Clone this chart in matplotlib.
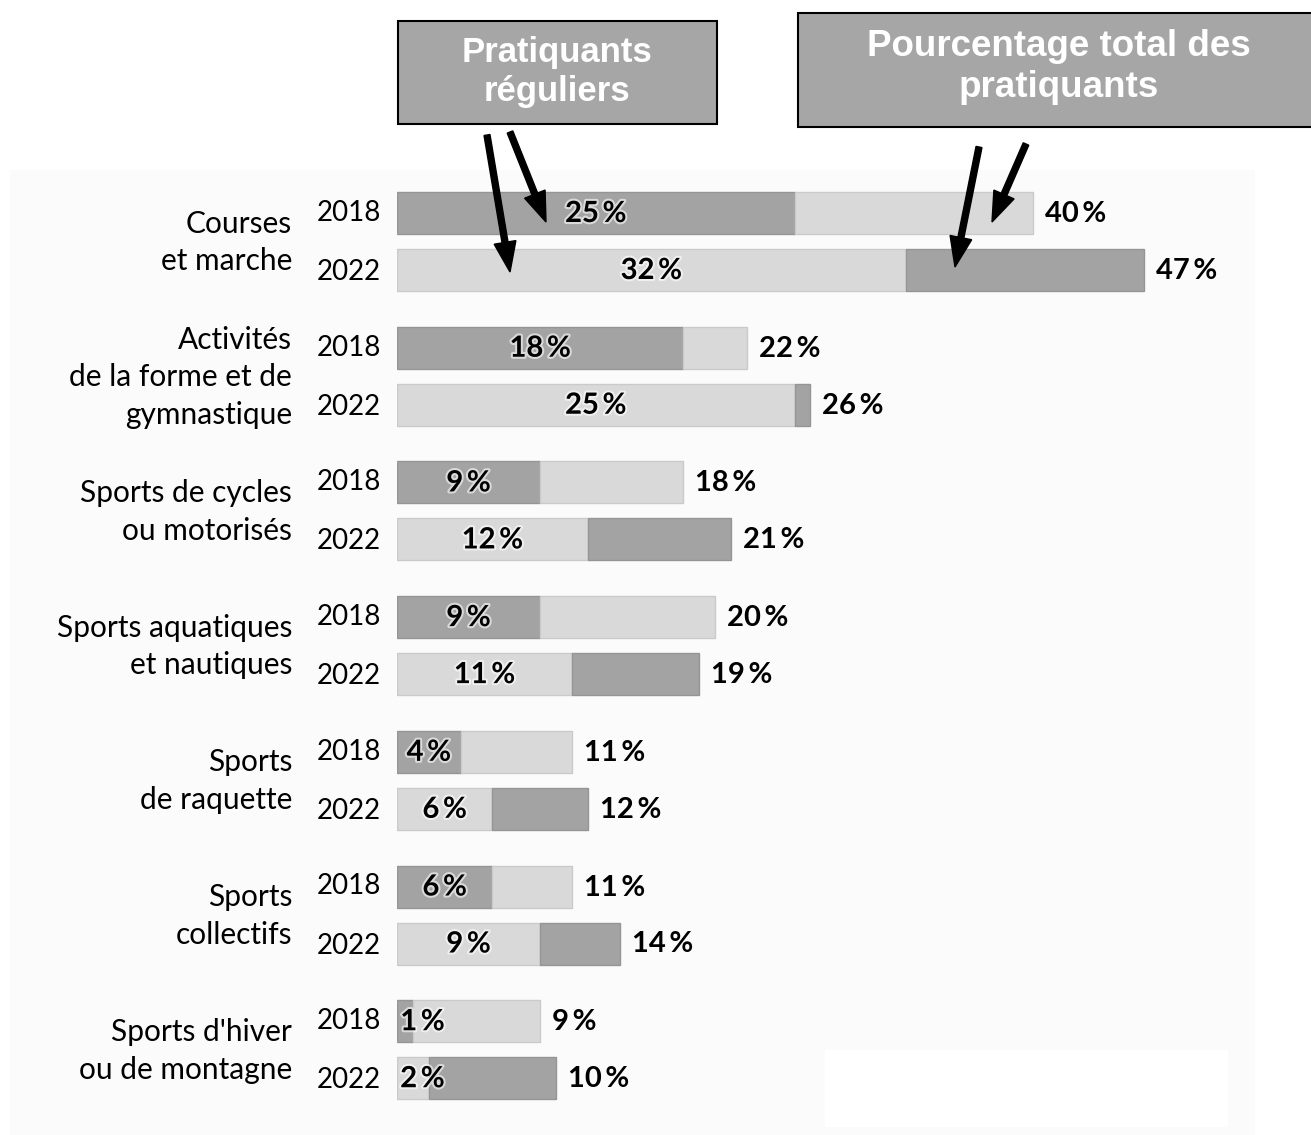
import matplotlib.pyplot as plt
from matplotlib.patches import Rectangle, FancyArrow
import matplotlib.patheffects as pe

categories = ["Courses\net marche",
              "Activités\nde la forme et de\ngymnastique",
              "Sports de cycles\nou motorisés",
              "Sports aquatiques\net nautiques",
              "Sports\nde raquette",
              "Sports\ncollectifs",
              "Sports d'hiver\nou de montagne"]
years = ["2018", "2022"]
regular_2018 = [25, 18, 9, 9, 4, 6, 1]
total_2018 = [40, 22, 18, 20, 11, 11, 9]
regular_2022 = [32, 25, 12, 11, 6, 9, 2]
total_2022 = [47, 26, 21, 19, 12, 14, 10]

DARK = "#a3a3a3"
LIGHT = "#d9d9d9"
W, H = 1311, 1135
X0 = 397          # pixel of 0 %
PX = 15.9         # pixels per percent
Y_FIRST = 213
GROUP = 134.7
PAIR = 57
BAR_H = 42
FONT = ["Lato", "DejaVu Sans"]

fig = plt.figure(figsize=(W / 100, H / 100), dpi=100)
fig.patch.set_facecolor("white")

# faint panel behind the chart
bg = fig.add_axes([0, 0, 1, 1])
bg.set_xlim(0, W)
bg.set_ylim(H, 0)
bg.axis("off")
bg.add_patch(Rectangle((10, 170), 1245, 965, facecolor="#fbfbfb", edgecolor="none"))
bg.add_patch(Rectangle((825, 1050), 403, 77, facecolor="white", edgecolor="none"))

ax = fig.add_axes([X0 / W, 0, (W - X0) / W, 1])
ax.set_xlim(0, (W - X0) / PX)
ax.set_ylim(H, 0)
ax.axis("off")

halo = [pe.withStroke(linewidth=3, foreground="white", alpha=0.6)]

for i, cat in enumerate(categories):
    y18 = Y_FIRST + i * GROUP
    y22 = y18 + PAIR
    # 2018: regular dark, rest light
    ax.barh(y18, regular_2018[i], height=BAR_H, color=DARK, edgecolor="#959595", linewidth=1)
    ax.barh(y18, total_2018[i] - regular_2018[i], left=regular_2018[i], height=BAR_H,
            color=LIGHT, edgecolor="#cacaca", linewidth=1)
    # 2022: regular light, rest dark
    ax.barh(y22, regular_2022[i], height=BAR_H, color=LIGHT, edgecolor="#cacaca", linewidth=1)
    ax.barh(y22, total_2022[i] - regular_2022[i], left=regular_2022[i], height=BAR_H,
            color=DARK, edgecolor="#959595", linewidth=1)

    for y, reg, tot in [(y18, regular_2018[i], total_2018[i]), (y22, regular_2022[i], total_2022[i])]:
        ax.text(max(reg / 2, 1.6), y + 1, f"{reg}\u2009%", ha="center", va="center",
                fontsize=21, fontweight="bold", family=FONT, path_effects=halo)
        ax.text(tot + 0.75, y + 1, f"{tot}\u2009%", ha="left", va="center",
                fontsize=21, fontweight="bold", family=FONT)

    ax.text(-1.0, y18, years[0], ha="right", va="center", fontsize=20, family=FONT)
    ax.text(-1.0, y22 + 2, years[1], ha="right", va="center", fontsize=20, family=FONT)
    ax.text(-6.6, (y18 + y22) / 2 + 1, cat, ha="right", va="center", fontsize=21.5,
            family=FONT, linespacing=1.42)

# annotation boxes and arrows on top of everything
top = fig.add_axes([0, 0, 1, 1])
top.set_xlim(0, W)
top.set_ylim(H, 0)
top.axis("off")
top.patch.set_alpha(0)

box_font = ["Liberation Sans", "DejaVu Sans"]
top.add_patch(Rectangle((398, 21), 319, 103, facecolor="#a6a6a6", edgecolor="black", linewidth=1.5))
top.text(557, 72, "Pratiquants\nréguliers", ha="center", va="center", color="white",
         fontsize=25, fontweight="bold", family=box_font, linespacing=1.25)
top.add_patch(Rectangle((798, 13), 520, 114, facecolor="#a6a6a6", edgecolor="black", linewidth=1.5))
top.text(1059, 67, "Pourcentage total des\npratiquants", ha="center", va="center", color="white",
         fontsize=26.5, fontweight="bold", family=box_font, linespacing=1.25)

arrows = [((487, 135), (510, 272)),
          ((510, 132), (546, 222)),
          ((979, 147), (955, 267)),
          ((1026, 144), (992, 222))]
for (xs, ys), (xe, ye) in arrows:
    top.add_patch(FancyArrow(xs, ys, xe - xs, ye - ys, width=6, head_width=22,
                             head_length=30, length_includes_head=True,
                             color="black"))

fig.savefig("out.png", dpi=100)
